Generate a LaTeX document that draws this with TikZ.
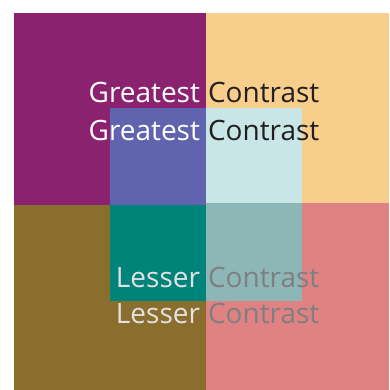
\documentclass[tikz,border=0pt]{standalone}
\usepackage{fontspec}
\setmainfont{Open Sans}
\usetikzlibrary{positioning}
\definecolor{ContrastPurple}{HTML}{8B2270}
\definecolor{ContrastPeach}{HTML}{F8CE8C}
\definecolor{ContrastOlive}{HTML}{8A6E2E}
\definecolor{ContrastRose}{HTML}{E08282}
\definecolor{ContrastBlue}{HTML}{6063AD}
\definecolor{ContrastIce}{HTML}{C8E6E6}
\definecolor{ContrastTeal}{HTML}{008479}
\definecolor{ContrastSage}{HTML}{8DB7B7}
\definecolor{ContrastInk}{HTML}{231F20}
\definecolor{ContrastGrey}{HTML}{7F7F82}
\definecolor{ContrastLight}{HTML}{E2E2E2}

\begin{document}
\begin{tikzpicture}[
  x=1pt, y=-1pt,
  font=\fontsize{28}{28}\selectfont,
  word/.style={inner sep=0pt, outer sep=0pt},
  left word/.style={word, anchor=base east},
  right word/.style={word, anchor=base west}
]
\useasboundingbox (0,0) rectangle (389,390);
% outer quadrants
\fill[ContrastPurple] (14,13) rectangle (206,205);
\fill[ContrastPeach] (206,13) rectangle (389,203);
\fill[ContrastOlive] (14,205) rectangle (206,390);
\fill[ContrastRose] (206,203) rectangle (389,390);
% inner quadrants
\fill[ContrastBlue] (110,108) rectangle (206,205);
\fill[ContrastIce] (206,108) rectangle (302,203);
\fill[ContrastTeal] (110,205) rectangle (206,301);
\fill[ContrastSage] (206,203) rectangle (302,301);
% labels
\node[left word, text=white] (great1) at (200,103) {Greatest};
\node[right word, text=ContrastInk] (contr1) at (208,103) {Contrast};
\node[left word, text=white] (great2) at (200,141) {Greatest};
\node[right word, text=ContrastInk] (contr2) at (208,141) {Contrast};
\node[left word, text=ContrastLight] (less1) at (200,287) {Lesser};
\node[right word, text=ContrastGrey] (contr3) at (208,287) {Contrast};
\node[left word, text=ContrastLight] (less2) at (200,323) {Lesser};
\node[right word, text=ContrastGrey] (contr4) at (208,323) {Contrast};
\end{tikzpicture}
\end{document}
